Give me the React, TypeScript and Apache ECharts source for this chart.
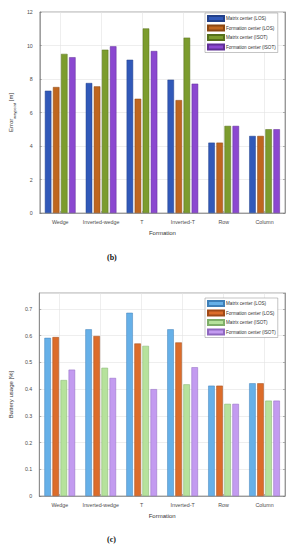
import React, { useEffect, useRef } from "react";
import * as echarts from "echarts";

const categories = ["Wedge", "Inverted-wedge", "T", "Inverted-T", "Row", "Column"];
const seriesNames = [
  "Matrix center (LOS)",
  "Formation center (LOS)",
  "Matrix center (ISOT)",
  "Formation center (ISOT)",
];

// (b) Error waypoint [m]
const errMatrixLOS = [7.3, 7.76, 9.15, 7.96, 4.2, 4.6];
const errFormationLOS = [7.52, 7.56, 6.82, 6.74, 4.2, 4.6];
const errMatrixISOT = [9.5, 9.75, 11.02, 10.47, 5.2, 5.0];
const errFormationISOT = [9.3, 9.95, 9.67, 7.72, 5.2, 5.0];

// (c) Battery usage [%]
const batMatrixLOS = [0.592, 0.624, 0.686, 0.624, 0.413, 0.422];
const batFormationLOS = [0.595, 0.599, 0.571, 0.575, 0.413, 0.422];
const batMatrixISOT = [0.434, 0.48, 0.562, 0.418, 0.345, 0.357];
const batFormationISOT = [0.473, 0.442, 0.4, 0.482, 0.345, 0.357];

const errColors = ["#3159b9", "#bf661f", "#7c9c2e", "#8b48d0"];
const errBorders = ["#22408a", "#8a4712", "#56701c", "#5f2e96"];
const batColors = ["#66b0e8", "#dc6c2a", "#b6e29c", "#c39bf0"];
const batBorders = ["#3f7fb8", "#a04a18", "#7fae6a", "#8f68c0"];

const FONT = "Liberation Sans, Arial, sans-serif";

function buildOption(
  data: number[][],
  colors: string[],
  borders: string[],
  yMax: number,
  yInterval: number,
  yName: string,
  grid: any,
  legendTop: number,
  captionText: string,
  captionY: number,
  nameRich: any
) {
  const axisLineColor = "#6e6e6e";
  return {
    animation: false,
    textStyle: { fontFamily: FONT },
    grid: {
      left: grid.left,
      right: grid.right,
      top: grid.top,
      bottom: grid.bottom,
      show: true,
      borderColor: axisLineColor,
      borderWidth: 0.6,
      backgroundColor: "#ffffff",
    },
    legend: {
      orient: "vertical",
      left: 205,
      top: legendTop,
      data: seriesNames,
      icon: "rect",
      itemWidth: 16,
      itemHeight: 5,
      itemGap: 2.5,
      padding: [2, 2, 2, 2],
      borderColor: "#8a8a8a",
      borderWidth: 0.5,
      backgroundColor: "#ffffff",
      textStyle: { fontSize: 4.6, color: "#333", fontFamily: FONT, padding: [0, 0, 0, -3] },
    },
    xAxis: [
      {
        type: "category",
        data: categories,
        name: "Formation",
        nameLocation: "middle",
        nameGap: 17,
        nameTextStyle: { fontSize: 6, color: "#333", fontFamily: FONT },
        axisLine: { lineStyle: { color: axisLineColor, width: 0.6 } },
        axisTick: { show: true, inside: true, length: 2, alignWithLabel: true, lineStyle: { color: axisLineColor, width: 0.5 } },
        axisLabel: { fontSize: 5.3, color: "#4d4d4d", margin: 6, interval: 0, fontFamily: FONT },
        splitLine: { show: true, alignWithLabel: true, lineStyle: { color: "#e3e3e3", width: 0.6 } },
      },
    ],
    yAxis: [
      {
        type: "value",
        min: 0,
        max: yMax,
        interval: yInterval,
        name: yName,
        nameLocation: "middle",
        nameGap: 18,
        nameTextStyle: { fontSize: 6, color: "#333", fontFamily: FONT, rich: nameRich },
        axisLine: { show: true, lineStyle: { color: axisLineColor, width: 0.6 } },
        axisTick: { show: true, inside: true, length: 2, lineStyle: { color: axisLineColor, width: 0.5 } },
        axisLabel: { fontSize: 5.3, color: "#4d4d4d", margin: 7, showMaxLabel: yMax % yInterval === 0, fontFamily: FONT },
        splitLine: { show: true, lineStyle: { color: "#e3e3e3", width: 0.6 } },
      },
      {
        type: "value",
        min: 0,
        max: yMax,
        interval: yInterval,
        position: "right",
        axisLine: { show: true, lineStyle: { color: axisLineColor, width: 0.6 } },
        axisTick: { show: true, inside: true, length: 2, lineStyle: { color: axisLineColor, width: 0.5 } },
        axisLabel: { show: false },
        splitLine: { show: false },
      },
    ],
    series: data.map((d, i) => ({
      type: "bar",
      name: seriesNames[i],
      data: d,
      barWidth: 6.5,
      barGap: "24%",
      itemStyle: { color: colors[i], borderColor: borders[i], borderWidth: 0.5 },
    })),
    graphic: [
      {
        type: "text",
        left: 107,
        top: captionY,
        style: { text: captionText, fontSize: 8, fontFamily: "Liberation Serif, DejaVu Serif, serif", fontWeight: "bold", fill: "#111" },
      },
    ],
  };
}

export default function App() {
  const ref1 = useRef<HTMLDivElement>(null);
  const ref2 = useRef<HTMLDivElement>(null);

  useEffect(() => {
    document.body.style.margin = "0";
    const c1 = echarts.init(ref1.current!, undefined, { renderer: "svg" });
    const c2 = echarts.init(ref2.current!, undefined, { renderer: "svg" });
    c1.setOption(
      buildOption(
        [errMatrixLOS, errFormationLOS, errMatrixISOT, errFormationISOT],
        errColors,
        errBorders,
        12,
        2,
        "{a|Error}{sub|waypoint}{a| [m]}",
        { left: 29, right: 13, top: 12, bottom: 59 },
        13,
        "(b)",
        253,
        {
          a: { fontSize: 6, color: "#333", lineHeight: 10, verticalAlign: "middle", fontFamily: FONT },
          sub: { fontSize: 4, color: "#333", lineHeight: 10, verticalAlign: "bottom", fontFamily: FONT },
        }
      )
    );
    c2.setOption(
      buildOption(
        [batMatrixLOS, batFormationLOS, batMatrixISOT, batFormationISOT],
        batColors,
        batBorders,
        0.76,
        0.1,
        "Battery usage [%]",
        { left: 29, right: 13, top: 21, bottom: 54 },
        26,
        "(c)",
        263,
        {}
      )
    );
    return () => {
      c1.dispose();
      c2.dispose();
    };
  }, []);

  return (
    <div style={{ position: "absolute", left: 0, top: 0, width: 298, height: 550, background: "#fff" }}>
      <div ref={ref1} style={{ position: "absolute", left: 0, top: 0, width: 298, height: 272 }} />
      <div ref={ref2} style={{ position: "absolute", left: 0, top: 272, width: 298, height: 278 }} />
    </div>
  );
}
